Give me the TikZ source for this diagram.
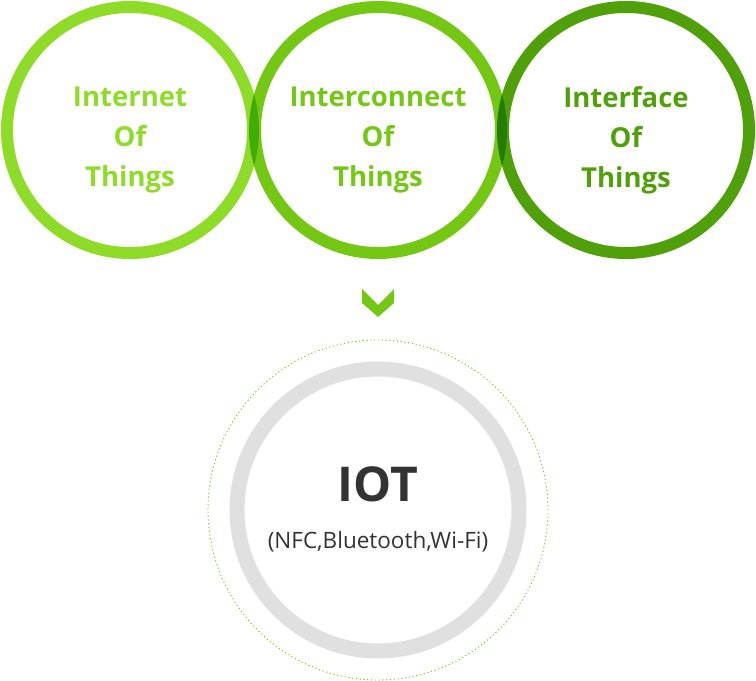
\documentclass[tikz,border=0pt]{standalone}
\usepackage{fontspec}
\setmainfont{Open Sans}
\usetikzlibrary{positioning}
\newcommand{\ringsize}{246bp}
\definecolor{greenA}{RGB}{143,220,40}
\definecolor{greenB}{RGB}{116,200,20}
\definecolor{greenC}{RGB}{80,160,10}
\definecolor{ringgray}{RGB}{224,224,224}
\definecolor{textgray}{RGB}{51,51,51}
\begin{document}
\begin{tikzpicture}[x=1bp,y=-1bp,
    ring/.style={draw, circle, line width=12bp, minimum size=\ringsize, inner sep=0pt, align=center,
      font=\fontsize{27.5bp}{40bp}\selectfont\bfseries}]
    \useasboundingbox (0,0) rectangle (756,681);
    % Top row
    \begin{scope}[blend group=multiply]
    \node[ring, draw=greenA] (ring-1) at (130,130) {};
    \node[ring, draw=greenB] (ring-2) at (378,130) {};
    \node[ring, draw=greenC] (ring-3) at (626,130) {};
    \end{scope}
    \node[ring, draw=none, text=greenA] (text-1) at (130,140) {Internet\\Of\\Things};
    \node[ring, draw=none, text=greenB] (text-2) at (378,140) {Interconnect\\Of\\Things};
    \node[ring, draw=none, text=greenC] (text-3) at (626,140) {Interface\\Of\\Things};

    % Chevron
    \fill[greenB] (362,289) -- (378,305) -- (394,289) -- (394,303) -- (378,317) -- (362,303) -- cycle;

    % Bottom
    \node[draw=greenB, circle, line width=0.9bp, dash pattern=on 1.2bp off 2.6bp, minimum size=340bp, inner sep=0pt] (dots) at (378,510) {};
    \node[draw=ringgray, circle, line width=15bp, minimum size=282bp, inner sep=0pt] (iot) at (378,510) {};
    \node[text=textgray, font=\fontsize{48bp}{56bp}\selectfont\bfseries] (iot-title) at (378,484) {IOT};
    \node[text=textgray, font=\fontsize{22.5bp}{26bp}\selectfont] (iot-sub) at (378,542) {(NFC,Bluetooth,Wi-Fi)};
\end{tikzpicture}
\end{document}
